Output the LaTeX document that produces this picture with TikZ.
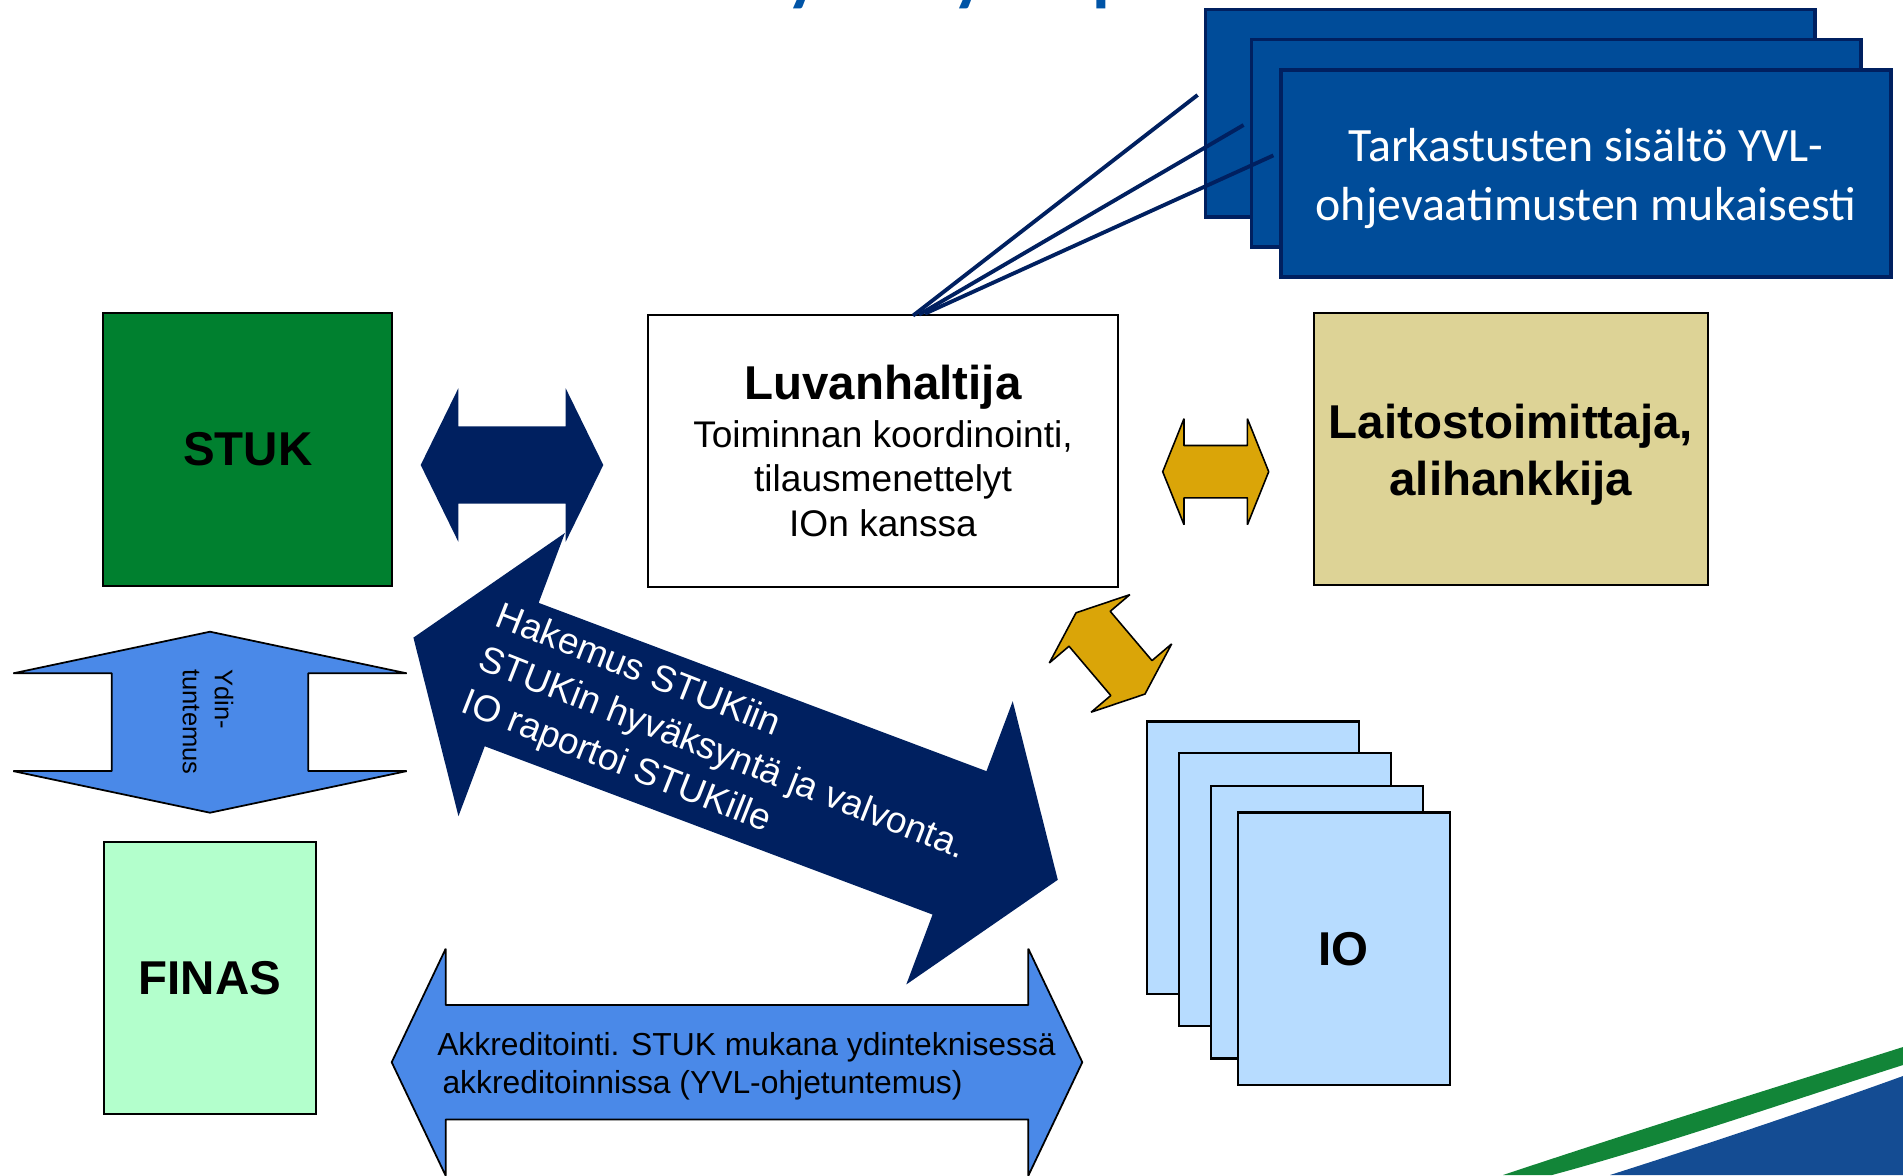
\documentclass[tikz,border=0pt]{standalone}
\usepackage{fontspec}
\setmainfont{Liberation Sans}
\newfontfamily\calibri{Carlito}
\usetikzlibrary{calc}

\definecolor{stukgreen}{RGB}{0,128,47}
\definecolor{stuknavy}{RGB}{0,32,96}
\definecolor{boxblue}{RGB}{0,76,153}
\definecolor{finasmint}{RGB}{179,255,204}
\definecolor{laitan}{RGB}{221,211,150}
\definecolor{arrowgold}{RGB}{218,165,8}
\definecolor{arrowblue}{RGB}{74,137,232}
\definecolor{sheetblue}{RGB}{183,220,255}
\definecolor{titleblue}{RGB}{0,84,166}
\definecolor{swgreen}{RGB}{18,133,56}
\definecolor{swblue}{RGB}{20,76,147}

\tikzset{
  box/.style={draw=black, line width=0.6pt, inner sep=0pt, align=center, minimum height=2.725cm},
  bigtext/.style={font=\fontsize{13.5}{16.2}\selectfont\bfseries},
  bodytext/.style={font=\fontsize{10.55}{12.7}\selectfont},
  bluebox/.style={draw=stuknavy, line width=1.1pt, fill=boxblue, minimum width=6.09cm, minimum height=2.07cm},
  boxlabel/.style={text=white, align=center, inner sep=0pt, font=\calibri\fontsize{13.6}{16.6}\selectfont},
  sheet/.style={box, fill=sheetblue, minimum width=2.12cm},
  callout/.style={draw=stuknavy, line width=1.1pt},
  navyarrow/.style={fill=stuknavy},
  goldarrow/.style={fill=arrowgold, draw=black, line width=0.45pt, line join=bevel},
  bluearrow/.style={fill=arrowblue, draw=black, line width=0.5pt, line join=bevel},
}

% block arrow: style, centre, angle, half length, head length, head half width, shaft half width
\newcommand\blockarrow[7]{%
  \path[#1, shift={#2}, rotate=#3]
    (-#4,0) -- (-#4+#5,#6) -- (-#4+#5,#7) -- (#4-#5,#7) -- (#4-#5,#6)
    -- (#4,0) -- (#4-#5,-#6) -- (#4-#5,-#7) -- (-#4+#5,-#7) -- (-#4+#5,-#6) -- cycle;}

\begin{document}
\begin{tikzpicture}[x=0.01cm, y=-0.01cm]
\useasboundingbox (0,0) rectangle (1903,1175);

% title, cut by the top edge
\begin{scope}
\clip (0,0) rectangle (1903,1175);
\node[anchor=base west, inner sep=0pt, text=titleblue, font=\calibri\bfseries\fontsize{20.6}{24}\selectfont] (title) at (176,-3)
{Tarkastuslaitoksen hyväksymisprosessi};
\end{scope}

% stacked callouts
\node[bluebox] (b1) at (1510.2,113) {};
\node[bluebox] (b2) at (1556.2,143) {};
\node[bluebox] (b3) at (1586,173.4) {};
\node[boxlabel] (b3text) at ($(b3.center)+(0,5)$) {Tarkastusten sisältö YVL-\\ohjevaatimusten mukaisesti};

% boxes
\node[box, fill=stukgreen, minimum width=2.887cm, bigtext] (stuk) at (247.7,449.3) {STUK};
\node[box, fill=white, minimum width=4.694cm, bodytext] (luv) at (883,451)
{{\fontsize{13.5}{16.2}\selectfont\bfseries Luvanhaltija}\\[0.8pt]Toiminnan koordinointi,\\tilausmenettelyt\hspace*{.28em}\\IOn kanssa};
\node[box, fill=laitan, minimum width=3.932cm] (lait) at (1510.9,449) {};
\node[bigtext, align=center, inner sep=0pt] (laittext) at ($(lait.center)+(0,6)$) {Laitostoimittaja,\\alihankkija};
\node[box, fill=finasmint, minimum width=2.115cm, bigtext] (finas) at (209.8,978) {FINAS};

\draw[callout] ($(luv.north)+(30,2)$) -- ($(b1.west)+(-6,-18)$);
\draw[callout] ($(luv.north)+(36,1)$) -- ($(b2.west)+(-6,-18)$);
\draw[callout] ($(luv.north)+(42,0)$) -- ($(b3.west)+(-6,-18)$);

% block arrows
\blockarrow{navyarrow}{(512,465)}{0}{91.3}{37.6}{76.7}{38.7}
\blockarrow{navyarrow}{(735.6,758.7)}{-20.6}{344.2}{105}{151.3}{76.6}
\node[rotate=-21.5, text=white, align=left, inner sep=0pt, font=\fontsize{10.5}{13.2}\selectfont] (hak) at (722,755)
{Hakemus STUKiin\\STUKin hyväksyntä ja valvonta.\\IO raportoi STUKille};

\blockarrow{bluearrow}{(210,722.2)}{90}{90.5}{41.6}{196.7}{98.3}
\node[rotate=-90, align=left, inner sep=0pt, font=\fontsize{7.26}{9.1}\selectfont] (ydin) at (208,722) {Ydin-\\tuntemus};

\blockarrow{bluearrow}{(737,1062.2)}{0}{345.3}{54}{113.5}{57.2}
\node[align=left, inner sep=0pt, font=\fontsize{9.05}{10.9}\selectfont] (akk) at (746.5,1066)
{Akkreditointi. STUK mukana ydinteknisessä\\\hspace*{1.5pt}akkreditoinnissa (YVL-ohjetuntemus)};

\blockarrow{goldarrow}{(1215.7,471.7)}{0}{53}{21.3}{53}{26.2}
\blockarrow{goldarrow}{(1110.5,653.4)}{-49.7}{53.3}{21}{52.8}{27}

% IO sheets
\foreach \i/\x/\y in {1/1253.3/857.8, 2/1285.3/889.7, 3/1317.3/922.2}
  \node[sheet] (io\i) at (\x,\y) {};
\node[sheet, bigtext] (io) at (1343.8,948.8) {IO};

% corner swoosh
\fill[swgreen] (1503,1175) .. controls (1650,1126) and (1780,1086) .. (1903,1047)
  -- (1903,1065) .. controls (1790,1101) and (1660,1146) .. (1552,1175) -- cycle;
\fill[swblue] (1610,1175) .. controls (1720,1140) and (1820,1106) .. (1903,1076) -- (1903,1175) -- cycle;
\end{tikzpicture}
\end{document}
